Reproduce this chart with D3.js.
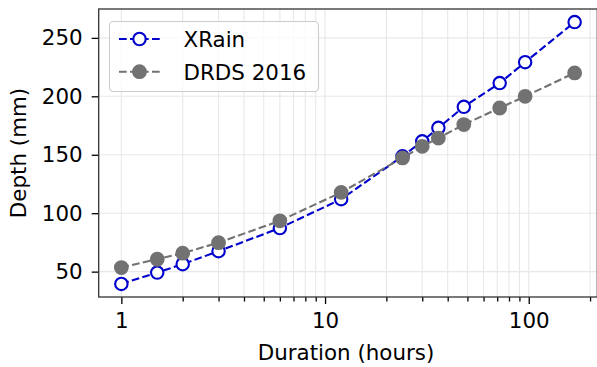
<!DOCTYPE html>
<html>
<head>
<meta charset="utf-8">
<script src="https://cdn.jsdelivr.net/npm/d3@7"></script>
<style>
  html, body { margin: 0; padding: 0; background: #fff; }
  svg { display: block; font-family: "DejaVu Sans", sans-serif; }
</style>
</head>
<body>
<svg id="chart" width="597" height="367"></svg>
<script>
// Rainfall depth versus storm duration
const durations = [1, 1.5, 2, 3, 6, 12, 24, 30, 36, 48, 72, 96, 168];
const xrainDepth = [39.5, 49.2, 56.4, 67.5, 87.3, 112, 148.7, 161.5, 173, 191, 211.3, 229.2, 263.5];
const drdsDepth = [53.5, 60.6, 65.8, 74.8, 93.5, 117.8, 147.3, 157.2, 164.3, 175.8, 190, 200, 220];
const seriesNames = ["XRain", "DRDS 2016"];
const yTicks = [50, 100, 150, 200, 250];
const xMajorTicks = [1, 10, 100];
const xMinorTicks = [2, 3, 4, 5, 6, 7, 8, 9, 20, 30, 40, 50, 60, 70, 80, 90, 200];

const svg = d3.select("#chart");
const plotLeft = 98.7, plotRight = 597.3, plotTop = 9, plotBottom = 297;

// log x-axis padded by 5% of the data span on each side
const lx0 = Math.log10(d3.min(durations)), lx1 = Math.log10(d3.max(durations));
const lpad = 0.05 * (lx1 - lx0);
const x = d3.scaleLog()
  .domain([Math.pow(10, lx0 - lpad), Math.pow(10, lx1 + lpad)])
  .range([plotLeft, plotRight]);

const allY = xrainDepth.concat(drdsDepth);
const y0 = d3.min(allY), y1 = d3.max(allY);
const ypad = 0.05 * (y1 - y0);
const y = d3.scaleLinear().domain([y0 - ypad, y1 + ypad]).range([plotBottom, plotTop]);

const fontSize = 21.4;
const gridColor = "#e8e8e8";

// grid
const grid = svg.append("g");
grid.selectAll("line.gx").data(xMajorTicks.concat(xMinorTicks)).join("line")
  .attr("x1", d => x(d)).attr("x2", d => x(d))
  .attr("y1", plotTop).attr("y2", plotBottom)
  .attr("stroke", gridColor).attr("stroke-width", 1.1);
grid.selectAll("line.gy").data(yTicks).join("line")
  .attr("x1", plotLeft).attr("x2", plotRight)
  .attr("y1", d => y(d)).attr("y2", d => y(d))
  .attr("stroke", gridColor).attr("stroke-width", 1.1);

// axes
const xAxis = d3.axisBottom(x).tickValues(xMajorTicks).tickFormat(d3.format("d"))
  .tickSize(7).tickPadding(8.5);
const xMinorAxis = d3.axisBottom(x).tickValues(xMinorTicks).tickFormat("").tickSize(4.5);
const yAxis = d3.axisLeft(y).tickValues(yTicks).tickSize(7).tickPadding(9);

function styleAxis(g) {
  g.select(".domain").remove();
  g.selectAll(".tick line").attr("stroke", "#000").attr("stroke-width", 1.3);
  g.selectAll(".tick text").attr("fill", "#000").style("font-size", fontSize + "px")
    .style("font-family", "DejaVu Sans");
}
svg.append("g").attr("transform", `translate(0,${plotBottom})`).call(xAxis).call(styleAxis);
svg.append("g").attr("transform", `translate(0,${plotBottom})`).call(xMinorAxis).call(styleAxis);
svg.append("g").attr("transform", `translate(${plotLeft},0)`).call(yAxis).call(styleAxis);

// spines
svg.append("rect").attr("x", plotLeft).attr("y", plotTop)
  .attr("width", plotRight - plotLeft).attr("height", plotBottom - plotTop)
  .attr("fill", "none").attr("stroke", "#333").attr("stroke-width", 1.3);

// axis labels
svg.append("text").attr("x", 346).attr("y", 360)
  .attr("text-anchor", "middle").style("font-size", fontSize + "px")
  .text("Duration (hours)");
svg.append("text").attr("transform", `translate(25.5,${(plotTop + plotBottom) / 2}) rotate(-90)`)
  .attr("text-anchor", "middle").style("font-size", fontSize + "px")
  .text("Depth (mm)");

// series
const blue = "#0000cd", gray = "#727272";
const dash = "7.7,3.3";
const styles = [
  { data: xrainDepth, line: blue, fill: "#fff", stroke: blue, r: 6.2, sw: 2.1 },
  { data: drdsDepth, line: gray, fill: gray, stroke: gray, r: 6.6, sw: 1.6 }
];
const line = d3.line().x(d => x(d[0])).y(d => y(d[1]));
const plot = svg.append("g");
styles.forEach(s => {
  const pts = durations.map((d, i) => [d, s.data[i]]);
  plot.append("path").datum(pts).attr("d", line)
    .attr("fill", "none").attr("stroke", s.line).attr("stroke-width", 2.1)
    .attr("stroke-dasharray", dash);
  plot.selectAll(null).data(pts).join("circle")
    .attr("cx", d => x(d[0])).attr("cy", d => y(d[1])).attr("r", s.r)
    .attr("fill", s.fill).attr("stroke", s.stroke).attr("stroke-width", s.sw);
});

// legend
const legend = svg.append("g");
legend.append("rect").attr("x", 109.5).attr("y", 21.5).attr("width", 209).attr("height", 70)
  .attr("rx", 4).attr("fill", "#fff").attr("fill-opacity", 0.8)
  .attr("stroke", "#cccccc").attr("stroke-width", 1.1);
const rows = [39, 71.7];
styles.forEach((s, i) => {
  const cy = rows[i];
  legend.append("line").attr("x1", 119).attr("x2", 162).attr("y1", cy).attr("y2", cy)
    .attr("stroke", s.line).attr("stroke-width", 2.1).attr("stroke-dasharray", dash);
  legend.append("circle").attr("cx", 139.5).attr("cy", cy).attr("r", s.r)
    .attr("fill", s.fill).attr("stroke", s.stroke).attr("stroke-width", s.sw);
  legend.append("text").attr("x", 183.5).attr("y", cy + 7.8)
    .style("font-size", fontSize + "px").text(seriesNames[i]);
});
</script>
</body>
</html>
